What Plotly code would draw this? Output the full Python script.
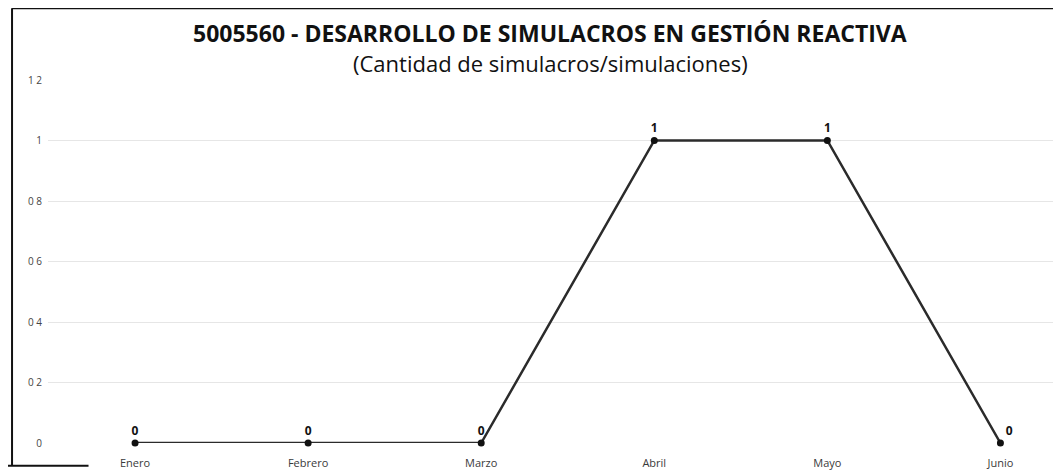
import plotly.graph_objects as go

# --- DATA ---
meses = ["Enero", "Febrero", "Marzo", "Abril", "Mayo", "Junio"]
simulacros = [0, 0, 0, 1, 1, 0]
posiciones_etiqueta = ["top center", "top center", "top center", "top center", "top center", "top right"]
y_ticks = [0, 0.2, 0.4, 0.6, 0.8, 1, 1.2]
y_ticktext = ["0", "0 2", "0 4", "0 6", "0 8", "1", "1 2"]
titulo = "5005560 - DESARROLLO DE SIMULACROS EN GESTIÓN REACTIVA"
subtitulo = "(Cantidad de simulacros/simulaciones)"

# --- THEME ---
LINE_COLOR = "#2b2b2b"
GRID_COLOR = "#e6e6e6"
TEXT_COLOR = "#3a3a3a"
FONT = "Open Sans"

# la página tiene 8px de margen en el body: los márgenes lo compensan
fig = go.Figure()

fig.add_trace(
    go.Scatter(
        x=meses,
        y=simulacros,
        mode="lines+markers+text",
        line=dict(color=LINE_COLOR, width=2.5),
        marker=dict(color="#111111", size=7),
        text=[str(v) for v in simulacros],
        textposition=posiciones_etiqueta,
        textfont=dict(family=FONT, size=12, color="#111111", weight="bold"),
        cliponaxis=False,
        showlegend=False,
    )
)

fig.update_layout(
    width=1061,
    height=472,
    paper_bgcolor="white",
    plot_bgcolor="white",
    font=dict(family=FONT, color=TEXT_COLOR),
    margin=dict(l=40, r=8, t=72, b=37),
    xaxis=dict(
        type="category",
        range=[-0.503, 5.35],
        showgrid=False,
        showline=False,
        zeroline=False,
        tickfont=dict(size=11, color=TEXT_COLOR),
        ticks="",
        ticklabelstandoff=12,
    ),
    yaxis=dict(
        range=[0, 1.2],
        tickvals=y_ticks,
        ticktext=y_ticktext,
        showgrid=True,
        gridcolor=GRID_COLOR,
        gridwidth=1,
        zeroline=False,
        showline=False,
        tickfont=dict(size=10, color="#444444"),
        ticks="",
        ticklabelstandoff=5,
    ),
)

# título y subtítulo como anotaciones
fig.add_annotation(text="<b>" + titulo + "</b>", xref="paper", yref="paper", x=0.4956, y=1.13,
                   xanchor="center", yanchor="middle", showarrow=False,
                   font=dict(family=FONT, size=23, color="#111111"))
fig.add_annotation(text=subtitulo, xref="paper", yref="paper", x=0.4956, y=1.047,
                   xanchor="center", yanchor="middle", showarrow=False,
                   font=dict(family=FONT, size=22, color="#111111"))

# marco escaneado: borde izquierdo y superior
fig.add_shape(type="line", xref="paper", yref="paper", x0=-0.0355, x1=-0.0355, y0=-0.063, y1=1.198,
              line=dict(color="#111111", width=2))
fig.add_shape(type="line", xref="paper", yref="paper", x0=-0.0355, x1=1.01, y0=1.198, y1=1.198,
              line=dict(color="#111111", width=2))
fig.add_shape(type="line", xref="paper", yref="paper", x0=-0.05, x1=0.04, y0=-0.063, y1=-0.063,
              line=dict(color="#111111", width=2))

fig.write_html("out.html")
